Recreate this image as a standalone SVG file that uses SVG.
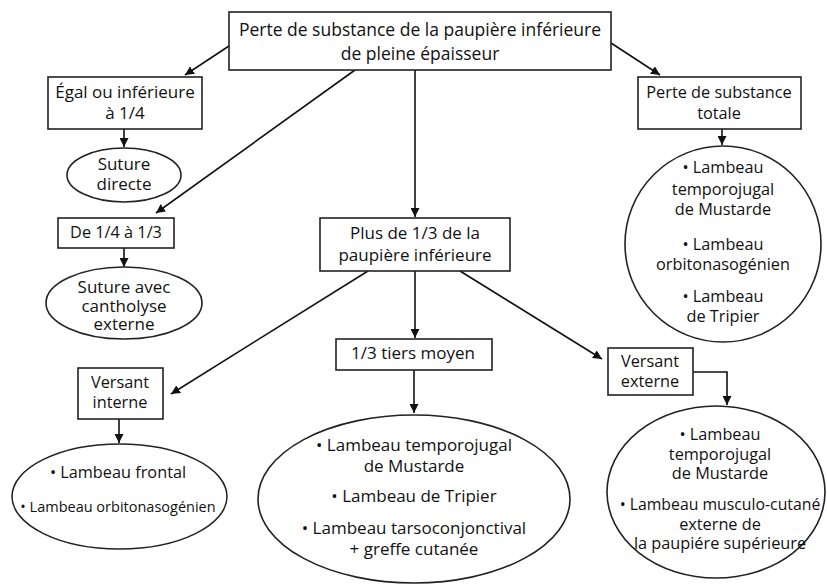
<svg xmlns="http://www.w3.org/2000/svg" width="827" height="584" viewBox="0 0 827 584">
<defs>
<marker id="ah" viewBox="0 0 10 10" refX="10" refY="5" markerWidth="9" markerHeight="9" markerUnits="userSpaceOnUse" orient="auto">
<path d="M0,0 L10,5 L0,10 Z" fill="#111"/>
</marker>
<style>
.box{fill:#fff;stroke:#222;stroke-width:1.6}
.ell{fill:#fff;stroke:#222;stroke-width:1.6}
text{font-family:"Open Sans","Noto Sans","DejaVu Sans",sans-serif;font-size:16.3px;fill:#111;text-anchor:middle}
.t{font-size:17.5px}
.m{font-size:17px}
.s{font-size:14.5px}
.c{fill:none;stroke:#111;stroke-width:1.6;marker-end:url(#ah)}
</style>
</defs>
<rect width="827" height="584" fill="#fff"/>
<g id="connectors">
<line class="c" x1="229" y1="46" x2="185" y2="75"/>
<line class="c" x1="124" y1="129" x2="124" y2="147"/>
<line class="c" x1="355" y1="70" x2="156" y2="213"/>
<line class="c" x1="124" y1="248" x2="124" y2="267"/>
<line class="c" x1="415" y1="70" x2="415" y2="217"/>
<line class="c" x1="611" y1="43" x2="660" y2="75"/>
<line class="c" x1="722" y1="129" x2="722" y2="145"/>
<line class="c" x1="368" y1="271" x2="171" y2="394"/>
<line class="c" x1="415" y1="271" x2="415" y2="338"/>
<line class="c" x1="460" y1="271" x2="602" y2="359"/>
<line class="c" x1="119" y1="419" x2="119" y2="443"/>
<line class="c" x1="414" y1="370" x2="414" y2="413"/>
<polyline class="c" points="693,372 727,372 727,405"/>
</g>
<g id="n-top">
<rect class="box" x="229" y="12" width="382" height="58"/>
<text class="t" x="420" y="36">Perte de substance de la paupière inférieure</text>
<text class="t" x="420" y="60">de pleine épaisseur</text>
</g>
<g id="n-egal">
<rect class="box" x="48" y="77" width="154" height="52"/>
<text class="m" x="125" y="98">Égal ou inférieure</text>
<text class="m" x="125" y="119">à 1/4</text>
</g>
<g id="n-suture">
<ellipse class="ell" cx="124" cy="175" rx="57" ry="27"/>
<text class="m" x="124" y="170">Suture</text>
<text class="m" x="124" y="190">directe</text>
</g>
<g id="n-de14">
<rect class="box" x="58" y="218" width="116" height="30"/>
<text x="116" y="238">De 1/4 à 1/3</text>
</g>
<g id="n-cantholyse">
<ellipse class="ell" cx="124" cy="303" rx="78" ry="36"/>
<text class="m" x="124" y="293">Suture avec</text>
<text class="m" x="124" y="312">cantholyse</text>
<text class="m" x="124" y="330">externe</text>
</g>
<g id="n-plus">
<rect class="box" x="320" y="218" width="190" height="53"/>
<text class="m" x="415" y="239">Plus de 1/3 de la</text>
<text class="m" x="415" y="261">paupière inférieure</text>
</g>
<g id="n-totale">
<rect class="box" x="638" y="77" width="163" height="52"/>
<text x="719" y="98">Perte de substance</text>
<text x="719" y="119">totale</text>
</g>
<g id="n-totale-list">
<ellipse class="ell" cx="723" cy="244" rx="98" ry="98"/>
<text x="723" y="173">• Lambeau</text>
<text x="723" y="195">temporojugal</text>
<text x="723" y="215">de Mustarde</text>
<text x="723" y="250">• Lambeau</text>
<text x="723" y="270">orbitonasogénien</text>
<text x="723" y="302">• Lambeau</text>
<text x="723" y="322">de Tripier</text>
</g>
<g id="n-tiers">
<rect class="box" x="336" y="339" width="156" height="31"/>
<text class="m" x="413" y="359">1/3 tiers moyen</text>
</g>
<g id="n-interne">
<rect class="box" x="78" y="368" width="85" height="51"/>
<text x="120" y="388">Versant</text>
<text x="120" y="408">interne</text>
</g>
<g id="n-interne-list">
<ellipse class="ell" cx="119.5" cy="496.5" rx="107.5" ry="52.5"/>
<text x="118" y="478">• Lambeau frontal</text>
<text class="s" x="118" y="512">• Lambeau orbitonasogénien</text>
</g>
<g id="n-tiers-list">
<ellipse class="ell" cx="414" cy="499" rx="156" ry="84"/>
<text class="m" x="414" y="451">• Lambeau temporojugal</text>
<text class="m" x="414" y="472">de Mustarde</text>
<text class="m" x="414" y="502">• Lambeau de Tripier</text>
<text class="m" x="414" y="534">• Lambeau tarsoconjonctival</text>
<text class="m" x="414" y="555">+ greffe cutanée</text>
</g>
<g id="n-externe">
<rect class="box" x="608" y="348" width="85" height="47"/>
<text x="650" y="367">Versant</text>
<text x="650" y="387">externe</text>
</g>
<g id="n-externe-list">
<ellipse class="ell" cx="716" cy="492" rx="109" ry="86"/>
<text x="720" y="440">• Lambeau</text>
<text x="720" y="460">temporojugal</text>
<text x="720" y="479">de Mustarde</text>
<text class="s" x="720" y="510" style="font-size:15.8px">• Lambeau musculo-cutané</text>
<text x="720" y="530">externe de</text>
<text x="720" y="549">la paupiére supérieure</text>
</g>
</svg>
